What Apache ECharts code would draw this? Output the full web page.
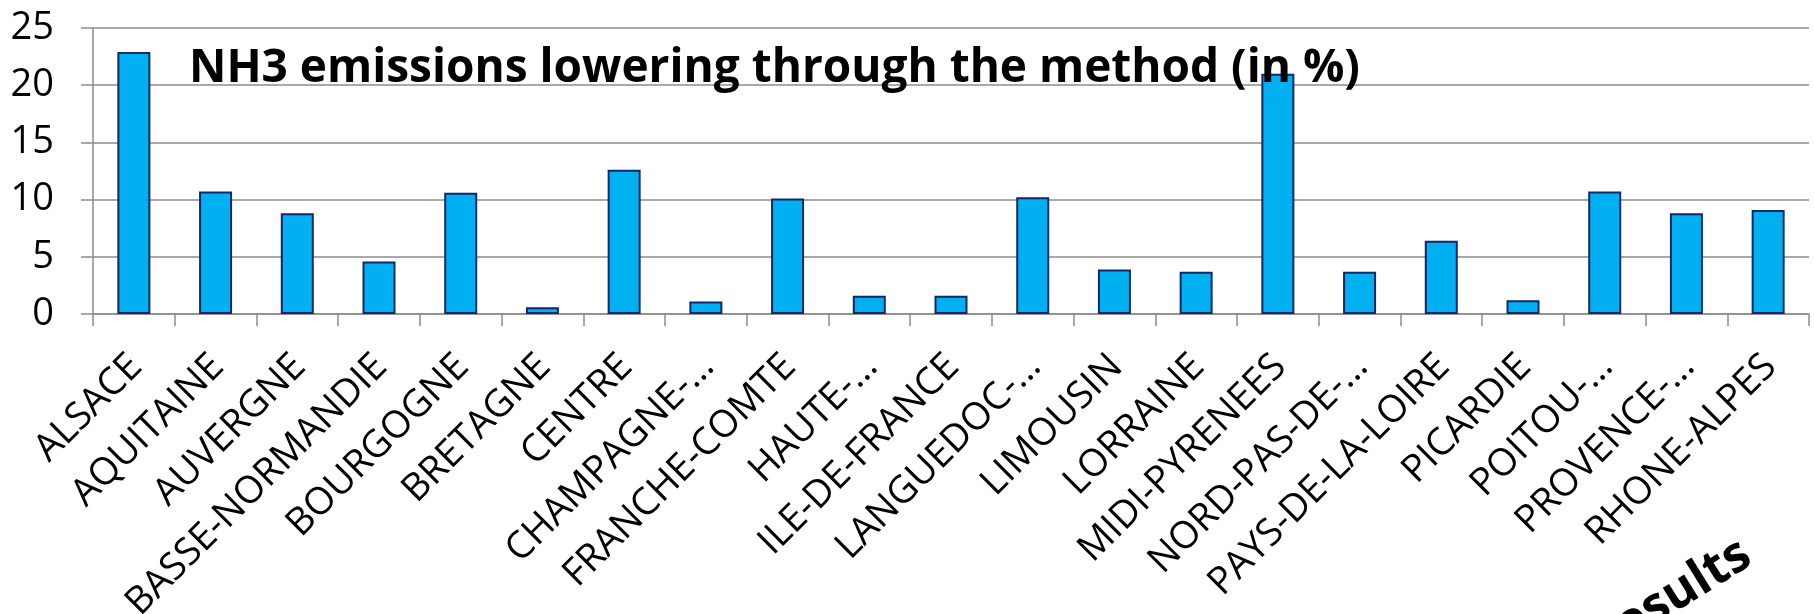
<!DOCTYPE html>
<html>
<head>
<meta charset="utf-8">
<script src="https://cdn.jsdelivr.net/npm/echarts@6/dist/echarts.min.js"></script>
<style>
  html, body { margin: 0; padding: 0; background: #ffffff; }
  #chart { width: 1814px; height: 614px; }
</style>
</head>
<body>
<div id="chart"></div>
<script>
// Regions (labels as printed under the axis)
const regions = [
  'ALSACE', 'AQUITAINE', 'AUVERGNE', 'BASSE-NORMANDIE', 'BOURGOGNE',
  'BRETAGNE', 'CENTRE', 'CHAMPAGNE-…', 'FRANCHE-COMTE', 'HAUTE-…',
  'ILE-DE-FRANCE', 'LANGUEDOC-…', 'LIMOUSIN', 'LORRAINE', 'MIDI-PYRENEES',
  'NORD-PAS-DE-…', 'PAYS-DE-LA-LOIRE', 'PICARDIE', 'POITOU-…', 'PROVENCE-…',
  'RHONE-ALPES'
];

// NH3 emissions lowering per region (%)
const loweringPct = [
  22.9, 10.7, 8.8, 4.6, 10.6,
  0.6, 12.6, 1.1, 10.1, 1.6,
  1.6, 10.2, 3.9, 3.7, 21.0,
  3.7, 6.4, 1.2, 10.7, 8.8,
  9.1
];

// Value axis
const yMin = 0;
const yMax = 25;
const yStep = 5;

const titleText = 'NH3 emissions lowering through the method (in %)';
const cornerText = 'Results';

const gridGray = '#8c8c8c';
const font = '"Open Sans", "DejaVu Sans", sans-serif';

const chart = echarts.init(document.getElementById('chart'), null, { renderer: 'canvas' });

chart.setOption({
  animation: false,
  backgroundColor: '#ffffff',
  title: {
    text: titleText,
    left: 184,
    top: 41,
    textStyle: {
      fontFamily: font,
      fontSize: 46,
      fontWeight: 'bold',
      color: '#000000'
    },
    z: 10
  },
  grid: {
    left: 93,
    right: 5,
    top: 28,
    bottom: 300,
    containLabel: false,
    outerBoundsMode: 'none'
  },
  xAxis: {
    type: 'category',
    data: regions,
    boundaryGap: true,
    axisLine: { show: true, lineStyle: { color: gridGray, width: 1.5 } },
    axisTick: { show: true, length: 12, lineStyle: { color: gridGray, width: 1.5 } },
    axisLabel: {
      interval: 0,
      rotate: 45,
      margin: 22,
      verticalAlign: 'top',
      padding: [0, 16, 0, 0],
      fontFamily: font,
      fontSize: 38,
      color: '#000000'
    },
    splitLine: { show: false }
  },
  yAxis: {
    type: 'value',
    min: yMin,
    max: yMax,
    interval: yStep,
    axisLine: { show: true, lineStyle: { color: gridGray, width: 1.5 } },
    axisTick: { show: true, length: 12, lineStyle: { color: gridGray, width: 1.5 } },
    axisLabel: {
      margin: 39,
      fontFamily: font,
      fontSize: 38,
      color: '#000000'
    },
    splitLine: { show: true, lineStyle: { color: gridGray, width: 1.5 } }
  },
  series: [{
    type: 'bar',
    data: loweringPct,
    barWidth: 33,
    itemStyle: {
      color: '#00b0f0',
      borderColor: '#10296b',
      borderWidth: 2
    },
    z: 2
  }],
  graphic: [{
    type: 'text',
    x: 1760,
    y: 572,
    rotation: 32 * Math.PI / 180,
    style: {
      text: cornerText,
      font: 'bold 50px "Open Sans", sans-serif',
      fill: '#000000',
      textAlign: 'right',
      textVerticalAlign: 'bottom'
    },
    z: 10
  }]
});
</script>
</body>
</html>
